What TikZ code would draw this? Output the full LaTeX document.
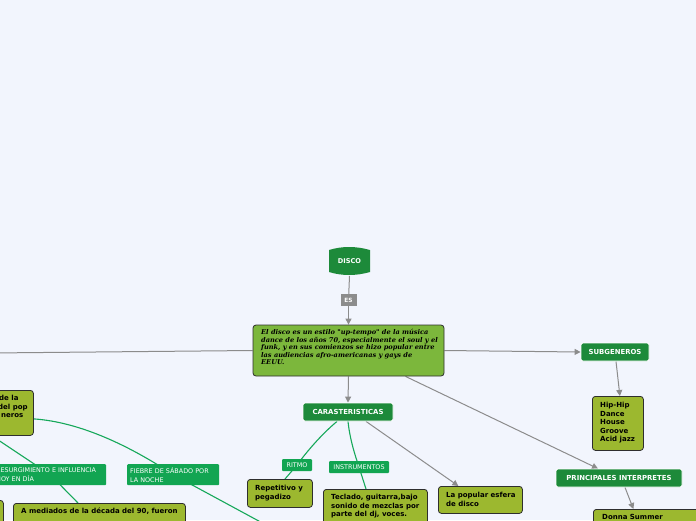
\documentclass[tikz,border=0pt]{standalone}
\usepackage{fontspec}
\setsansfont{DejaVu Sans}
\newfontfamily\serfont{DejaVu Serif}
\usetikzlibrary{arrows.meta}
\definecolor{bgc}{HTML}{F2F5FD}
\definecolor{dgreen}{HTML}{1D8A3A}
\definecolor{lgreen}{HTML}{12A552}
\definecolor{olive}{HTML}{9CB82F}
\definecolor{mgreen}{HTML}{7CB73C}
\definecolor{cgreen}{HTML}{16A85A}
\definecolor{gline}{HTML}{8C8C8C}
\definecolor{bord}{HTML}{2E2E2E}
\pgfdeclarelayer{back}
\pgfsetlayers{back,main}
\tikzset{
  head/.style={fill=dgreen, draw=white, line width=0.8pt, rounded corners=2pt, text=white,
    font=\sffamily\bfseries\fontsize{6.9}{8}\selectfont, minimum height=18pt, inner sep=0pt},
  lbl/.style={fill=lgreen, text=white, rounded corners=1pt, inner sep=0pt,
    font=\sffamily\fontsize{6.4}{8.8}\selectfont, minimum height=12pt},
  obox/.style={fill=olive, draw=bord, line width=0.8pt, rounded corners=3pt, anchor=north west,
    inner sep=0pt},
  otext/.style={anchor=north west, align=left, inner sep=0pt, text=black,
    font=\sffamily\bfseries\fontsize{7}{8.5}\selectfont},
  gcon/.style={draw=gline, line width=1pt},
  garrow/.style={gcon, -{Triangle[length=6pt,width=6pt]}},
  ccon/.style={draw=cgreen, line width=1.1pt},
}
\begin{document}
\begin{tikzpicture}[x=1pt,y=-1pt]
\useasboundingbox (0,0) rectangle (696,520);
\begin{pgfonlayer}{back}
\fill[bgc] (0,0) rectangle (696,520);
\end{pgfonlayer}

% DISCO barrel shape
\fill[dgreen] (329,250) .. controls (342,246) and (356,246) .. (370,250) -- (370,272)
  .. controls (356,276) and (342,276) .. (329,272) -- cycle;
\node[text=white, font=\sffamily\bfseries\fontsize{6.6}{7.5}\selectfont] (disco) at (349.5,261) {DISCO};
\coordinate (discob) at (349.5,276);

% main box
\node[fill=mgreen, draw=bord, line width=0.8pt, rounded corners=3pt, minimum width=191pt, minimum height=51pt,
  inner sep=0pt] (mainb) at (348.5,350.5) {};
\node[anchor=north west, align=left, inner sep=0pt, text=black,
  font=\serfont\bfseries\itshape\fontsize{6.6}{7.6}\selectfont] (maint) at (261,329)
  {El disco es un estilo "up-tempo" de la música\\dance de los años 70, especialmente el soul y el\\funk, y en sus comienzos se hizo popular entre\\las audiencias afro-americanas y gays de\\EEUU.};

\node[fill=gline, text=white, font=\sffamily\bfseries\fontsize{5.8}{7}\selectfont, minimum width=16pt,
  minimum height=12pt, inner sep=0pt] (es) at (348.5,300) {ES};

\node[head, minimum width=68pt] (sub) at (615,352) {SUBGENEROS};
\node[obox, minimum width=51pt, minimum height=54pt] (hip) at (592,396) {};
\node[otext] (hipt) at (600,402) {Hip-Hip\\Dance\\House\\Groove\\Acid jazz};

\node[head, minimum width=90pt] (car) at (348,412) {CARASTERISTICAS};
\node[head, minimum width=126pt] (pri) at (619,478) {PRINCIPALES INTERPRETES};
\node[obox, minimum width=110pt, minimum height=40pt] (don) at (593,509) {};
\node[otext] (dont) at (602,514) {Donna Summer};

\node[obox, minimum width=65pt, minimum height=28pt] (rep) at (247,479) {};
\node[otext] (rept) at (255,485) {Repetitivo y\\pegadizo};

\node[obox, minimum width=104pt, minimum height=40pt] (tec) at (323,489) {};
\node[otext] (tect) at (331,494) {Teclado, guitarra,bajo\\sonido de mezclas por\\parte del dj, voces.};

\node[obox, minimum width=84pt, minimum height=27pt] (pop) at (438,486) {};
\node[otext] (popt) at (446,492) {La popular esfera\\de disco};

\node[lbl, minimum width=30pt] (ritmo) at (297,465) {RITMO};
\node[lbl, minimum width=60pt] (instr) at (359,467) {INSTRUMENTOS};

\node[lbl, anchor=north west, minimum width=91pt, minimum height=21pt, align=left, text width=86pt, inner xsep=3pt]
  (fie) at (127,464) {FIEBRE DE SÁBADO POR\\LA NOCHE};
\node[lbl, anchor=north west, minimum width=111pt, minimum height=21pt, align=left, text width=108pt, inner xsep=2pt]
  (res) at (-6,464) {RESURGIMIENTO E INFLUENCIA\\HOY EN DÍA};

\node[obox, minimum width=93pt, minimum height=45pt] (lb) at (-60,390) {};
\node[otext] (lbt) at (-2,395) {\hspace*{1pt}de la\\del pop\\\hspace*{3pt}neros};

\node[obox, minimum width=172pt, minimum height=40pt] (amed) at (13,503) {};
\node[otext] (amedt) at (21,508) {A mediados de la década del 90, fueron};
\node[obox, minimum width=53pt, minimum height=40pt] (lb2) at (-50,500) {};

\coordinate (leftend) at (-10,353);
\coordinate (fieend) at (268,526);

\begin{pgfonlayer}{back}
\draw[gcon] (discob) -- (es);
\draw[garrow] (es) -- (mainb.north);
\draw[gcon] (mainb.west) -- (leftend);
\draw[garrow] (mainb.east) -- (sub.west);
\draw[garrow] ([xshift=1pt]sub.south) -- ([xshift=2pt]hip.north);
\draw[garrow] (mainb.south) -- (car.north);
\draw[garrow] ([xshift=57pt]mainb.south) -- ([xshift=-21pt]pri.north);
\draw[garrow] ([xshift=6pt]pri.south) -- ([xshift=-15pt]don.north);
\draw[garrow] ([xshift=18pt]car.south) -- ([xshift=-22pt]pop.north);
\draw[ccon] ([xshift=-11pt]car.south) .. controls (322,434) and (308,450) .. (ritmo.center) -- ([xshift=38pt]rep.north west);
\draw[ccon] (car.south) .. controls (350,440) and (355,455) .. (instr.center) -- ([xshift=43pt]tec.north west);
\draw[ccon] ([yshift=-6pt]lb.east) .. controls (80,422) and (130,446) .. (fie.center) -- (fieend);
\draw[ccon] ([xshift=5pt]lb.south) -- (res.center) -- ([xshift=65pt]amed.north west);
\end{pgfonlayer}
\end{tikzpicture}
\end{document}
